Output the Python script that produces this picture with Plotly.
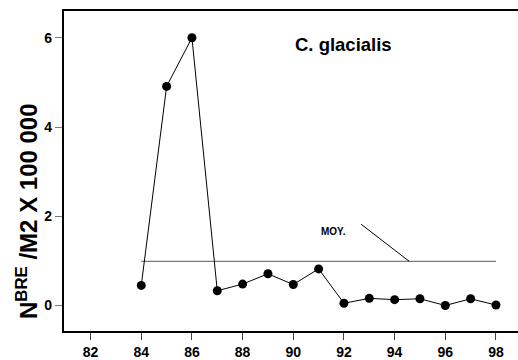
import numpy as np
import plotly.graph_objects as go

# Annual abundance of C. glacialis (individuals / m2 x 100 000)
years = [84, 85, 86, 87, 88, 89, 90, 91, 92, 93, 94, 95, 96, 97, 98]
density = [0.45, 4.91, 6.00, 0.33, 0.48, 0.71, 0.47, 0.82, 0.05, 0.16, 0.13, 0.15, 0.00, 0.15, 0.01]

x_ticks = [82, 84, 86, 88, 90, 92, 94, 96, 98]
y_ticks = [0, 2, 4, 6]

mean_value = float(np.mean(density))

FONT = "Liberation Sans, Arial, sans-serif"

fig = go.Figure()

# Long-term mean (MOY.)
fig.add_trace(go.Scatter(
    x=[years[0], years[-1]], y=[mean_value, mean_value],
    mode="lines", line=dict(color="#7a7a7a", width=1.3),
    hoverinfo="skip", showlegend=False,
))

# Yearly series
fig.add_trace(go.Scatter(
    x=years, y=density, mode="lines+markers",
    line=dict(color="black", width=1),
    marker=dict(color="black", size=9),
    showlegend=False,
))

# Leader line from the MOY. label to the mean line
fig.add_shape(type="line", xref="x", yref="y",
              x0=92.68, y0=1.82, x1=94.58, y1=mean_value,
              line=dict(color="black", width=1))

fig.add_annotation(x=91.6, y=1.65, xref="x", yref="y", text="<b>MOY.</b>",
                   showarrow=False, font=dict(family=FONT, size=10, color="black"))

fig.add_annotation(x=91.98, y=5.84, xref="x", yref="y", text="<b>C. glacialis</b>",
                   showarrow=False, font=dict(family=FONT, size=18.5, color="black"))

fig.add_annotation(x=-0.083, y=0.376, xref="paper", yref="paper",
                   text="<b>N<sup>BRE</sup> /M2 X 100 000</b>", textangle=-90,
                   showarrow=False, xanchor="center", yanchor="middle",
                   font=dict(family=FONT, size=24, color="black"))

fig.update_xaxes(
    range=[80.95, 98.87], tickvals=x_ticks, ticktext=[str(v) for v in x_ticks],
    showgrid=False, zeroline=False,
    showline=True, linecolor="black", linewidth=2.3, mirror=True,
    ticks="outside", ticklen=7, tickwidth=1, tickcolor="#444",
    tickfont=dict(family=FONT, size=14, color="black", weight="bold"),
)
fig.update_yaxes(
    range=[-0.572, 6.60], tickvals=y_ticks, ticktext=[str(v) for v in y_ticks],
    showgrid=False, zeroline=False,
    showline=True, linecolor="black", linewidth=2.3, mirror=False,
    ticks="outside", ticklen=7, tickwidth=1, tickcolor="#777",
    tickfont=dict(family=FONT, size=14, color="black", weight="bold"),
)

fig.update_layout(
    width=518, height=360,
    margin=dict(l=64, r=0, t=11, b=27),
    paper_bgcolor="white", plot_bgcolor="white",
    showlegend=False,
)

fig.write_html("out.html")
